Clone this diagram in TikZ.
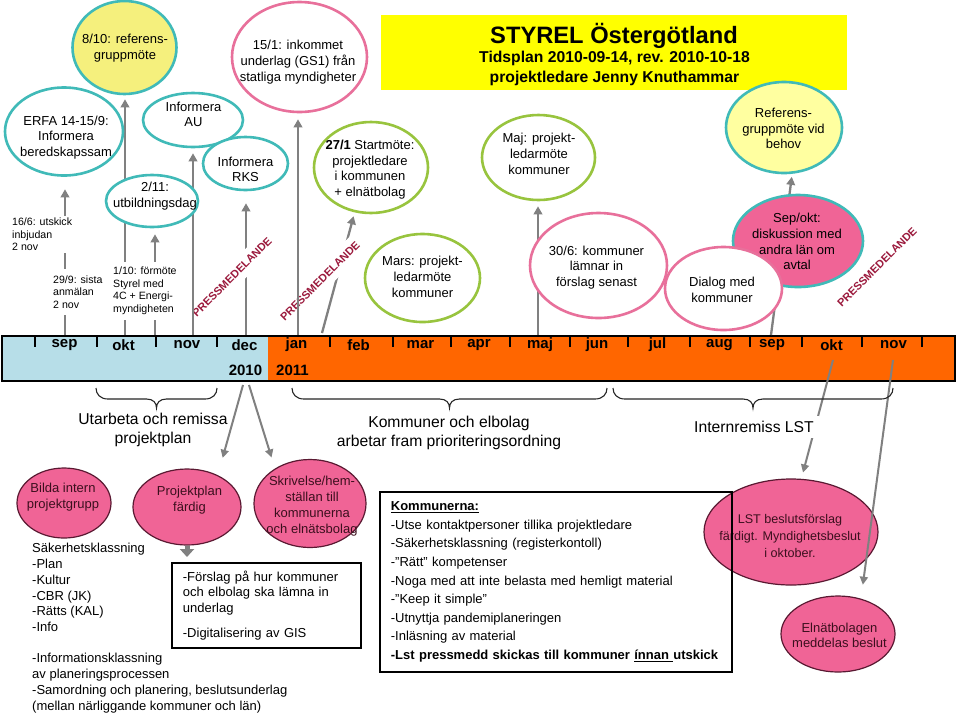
\documentclass[tikz,border=0pt]{standalone}
\usepackage{fontspec}
\setmainfont{Liberation Sans}
\usetikzlibrary{shapes.geometric,arrows.meta}
\pgfdeclarelayer{bg}
\pgfsetlayers{bg,main}
\definecolor{cteal}{RGB}{64,186,184}
\definecolor{cpinkb}{RGB}{232,112,155}
\definecolor{cgreen}{RGB}{152,196,62}
\definecolor{cyel}{RGB}{245,240,125}
\definecolor{cyelb}{RGB}{255,255,160}
\definecolor{cpinkf}{RGB}{240,100,150}
\definecolor{cdark}{RGB}{90,25,50}
\definecolor{cgray}{RGB}{128,128,128}
\definecolor{cpm}{RGB}{155,25,60}
\definecolor{cbarblue}{RGB}{183,222,232}
\definecolor{cbarorange}{RGB}{255,102,0}
\definecolor{ctitle}{RGB}{255,255,0}
\definecolor{clowtxt}{RGB}{60,15,30}
\newcommand\myfs[2]{\fontsize{#1}{#2}\selectfont}
\newcommand\mybrace[4]{\draw[brc] (#1,#4) .. controls (#1,#4+6) and (#1+4,#4+11) .. (#1+12,#4+11) -- (#3-10,#4+11) .. controls (#3-3,#4+11) and (#3,#4+15) .. (#3,#4+20) .. controls (#3,#4+15) and (#3+3,#4+11) .. (#3+10,#4+11) -- (#2-12,#4+11) .. controls (#2-4,#4+11) and (#2,#4+6) .. (#2,#4);}
\begin{document}
\begin{tikzpicture}[x=1pt, y=-1pt,
 ell/.style={ellipse, draw, line width=2.6pt, inner sep=0pt, fill=white},
 tealE/.style={ell, draw=cteal},
 pinkE/.style={ell, draw=cpinkb},
 greenE/.style={ell, draw=cgreen},
 lowE/.style={ellipse, draw=cdark, line width=1.2pt, fill=cpinkf, inner sep=0pt},
 etxt/.style={align=center, inner sep=0pt, font=\myfs{13}{15.7}},
 ltxt/.style={align=center, inner sep=0pt, text=clowtxt, font=\myfs{13}{16.5}},
 smalltxt/.style={align=left, fill=white, inner xsep=1pt, font=\myfs{10.6}{12.5}},
 pm/.style={rotate=45, fill=white, text=cpm, inner xsep=1pt, inner ysep=6.5pt, font=\bfseries\myfs{11}{13}},
 uparrow/.style={draw=cgray, line width=2.3pt, -{Triangle[length=8pt,width=8.5pt]}},
 downarrow/.style={draw=cgray, line width=2pt, -{Triangle[length=8pt,width=8pt]}},
 fatarrow/.style={draw=cgray, line width=5pt, -{Triangle[length=8pt,width=14pt]}},
 mlab/.style={inner sep=0pt, font=\bfseries\myfs{15}{18}},
 blab/.style={align=center, inner sep=0pt, font=\myfs{15.7}{19}},
 brc/.style={draw=black!85, line width=1.1pt},
 tickmark/.style={line width=2.2pt},
 boxnode/.style={draw, line width=1.8pt, inner xsep=11pt, align=left, anchor=north west}
]
\useasboundingbox (0,0) rectangle (960,713);

% title
\node[fill=ctitle, minimum width=466pt, minimum height=75pt, inner sep=0pt, anchor=north west] (titlebox) at (381,15) {};
\node[inner sep=0pt, font=\bfseries\myfs{23.7}{28}] (title1) at (614,35.5) {STYREL Östergötland};
\node[inner sep=0pt, align=center, font=\bfseries\myfs{15.7}{20}] (title2) at (614.5,68.5) {Tidsplan 2010-09-14, rev. 2010-10-18\\projektledare Jenny Knuthammar};

% upper ellipses
\node[tealE, fill=cyel, minimum width=104pt, minimum height=93pt] (ref810) at (124.5,47.5) {};
\node[etxt] (ref810t) at (125,48) {8/10: referens-\\gruppmöte};
\node[tealE, minimum width=118pt, minimum height=88pt] (erfa) at (64,131.5) {};
\node[etxt] (erfat) at (66,137.5) {ERFA 14-15/9:\\Informera\\beredskapssam};
\node[tealE, minimum width=100pt, minimum height=54pt] (au) at (193,120) {};
\node[etxt] (aut) at (193.5,114.5) {Informera\\AU};
\node[tealE, minimum width=85pt, minimum height=53pt] (rks) at (245.5,163.5) {};
\node[etxt] (rkst) at (245.5,169.5) {Informera\\RKS};
\node[tealE, minimum width=92pt, minimum height=52pt] (u211) at (152,201) {};
\node[etxt] (u211t) at (155,196) {2/11:\\utbildningsdag};
\node[pinkE, minimum width=135pt, minimum height=110pt] (g151) at (299.5,57) {};
\node[etxt] (g151t) at (298,62) {15/1: inkommet\\underlag (GS1) från\\statliga myndigheter};
\node[greenE, minimum width=114pt, minimum height=91pt] (s271) at (371,167.5) {};
\node[etxt] (s271t) at (370,169.5) {\textbf{27/1} Startmöte:\\projektledare\\i kommunen\\+ elnätbolag};
\node[greenE, minimum width=115pt, minimum height=88pt] (mars) at (422.5,278) {};
\node[etxt] (marst) at (422.5,277) {Mars: projekt-\\ledarmöte\\kommuner};
\node[greenE, minimum width=113pt, minimum height=85pt] (maj) at (538.5,157.5) {};
\node[etxt] (majt) at (539,154) {Maj: projekt-\\ledarmöte\\kommuner};
\node[pinkE, minimum width=137pt, minimum height=105pt] (j306) at (598.5,265.5) {};
\node[etxt] (j306t) at (596.5,267.5) {30/6: kommuner\\lämnar in\\förslag senast};
\node[tealE, fill=cyelb, minimum width=116pt, minimum height=91pt] (refb) at (784,127.5) {};
\node[etxt] (refbt) at (783.5,128.5) {Referens-\\gruppmöte vid\\behov};
\node[tealE, fill=cpinkf, minimum width=130pt, minimum height=92pt] (sepokt) at (798,241) {};
\node[etxt] (sepoktt) at (797,241.5) {Sep/okt:\\diskussion med\\andra län om\\avtal};
\node[pinkE, minimum width=117pt, minimum height=83pt] (dialog) at (723.5,288.5) {};
\node[etxt] (dialogt) at (722,289.5) {Dialog med\\kommuner};

% lower ellipses
\node[lowE, minimum width=94pt, minimum height=70pt] (bilda) at (64,503) {};
\node[ltxt] (bildat) at (63,497) {Bilda intern\\projektgrupp};
\node[lowE, minimum width=108pt, minimum height=76pt] (pp) at (187,507) {};
\node[ltxt] (ppt) at (189.5,500) {Projektplan\\färdig};
\node[lowE, minimum width=112pt, minimum height=88pt] (skriv) at (310,503.5) {};
\node[ltxt, font=\myfs{13}{16}] (skrivt) at (312,506.5) {Skrivelse/hem-\\ställan till\\kommunerna\\och elnätsbolag};
\node[lowE, minimum width=174pt, minimum height=106pt] (lst) at (791,532) {};
\node[ltxt, font=\myfs{12.6}{17}] (lstt) at (790,535.5) {LST beslutsförslag\\färdigt. Myndighetsbeslut\\i oktober.};
\node[lowE, minimum width=114pt, minimum height=76pt] (eln) at (838,634) {};
\node[ltxt, font=\myfs{13}{15}] (elnt) at (839.5,635) {Elnätbolagen\\meddelas beslut};

% boxes and text blocks
\node[boxnode, minimum width=189pt, minimum height=85pt, text width=167pt, font=\myfs{13}{15.3}] (fbox) at (171,562) {-Förslag på hur kommuner\\och elbolag ska lämna in\\underlag\\[9.5pt]-Digitalisering av GIS};
\node[boxnode, minimum width=352pt, minimum height=180pt, text width=330pt, font=\myfs{13}{18.6}] (kbox) at (379,491) {\textbf{\underline{Kommunerna:}}\\-Utse kontaktpersoner tillika projektledare\\-Säkerhetsklassning (registerkontoll)\\-”Rätt” kompetenser\\-Noga med att inte belasta med hemligt material\\-”Keep it simple”\\-Utnyttja pandemiplaneringen\\-Inläsning av material\\\textbf{-Lst pressmedd skickas till kommuner \underline{ínnan }utskick}};
\node[anchor=north west, align=left, inner sep=0pt, font=\myfs{13}{15.8}] (sak) at (32,543) {Säkerhetsklassning\\-Plan\\-Kultur\\-CBR (JK)\\-Rätts (KAL)\\-Info\\[15.2pt]-Informationsklassning\\av planeringsprocessen\\-Samordning och planering, beslutsunderlag\\(mellan närliggande kommuner och län)};

% month labels
\node[mlab] (m1) at (64.5,345) {sep};
\node[mlab] (m2) at (123.5,345) {okt};
\node[mlab] (m3) at (187,345) {nov};
\node[mlab] (m4) at (244.5,345) {dec};
\node[mlab] (m5) at (296.5,345) {jan};
\node[mlab] (m6) at (358.5,345) {feb};
\node[mlab] (m7) at (420.5,345) {mar};
\node[mlab] (m8) at (479,345) {apr};
\node[mlab] (m9) at (540,345) {maj};
\node[mlab] (m10) at (597,345) {jun};
\node[mlab] (m11) at (657.5,345) {jul};
\node[mlab] (m12) at (719.5,345) {aug};
\node[mlab] (m13) at (772,345) {sep};
\node[mlab] (m14) at (831.5,345) {okt};
\node[mlab] (m15) at (893.5,345) {nov};
\node[mlab] (y1) at (245.5,370) {2010};
\node[mlab] (y2) at (292.5,370) {2011};

% coordinates on the bar
\coordinate (c1) at (65,335);
\coordinate (c2) at (125,335);
\coordinate (c3) at (155,335);
\coordinate (c4) at (193,335);
\coordinate (c5) at (246,335);
\coordinate (c6) at (298,335);
\coordinate (c7) at (322,333);
\coordinate (c8) at (538,335);
\coordinate (c9) at (771,335);
\coordinate (d1) at (243,385);
\coordinate (d2) at (249,385);
\coordinate (o1) at (833,360);
\coordinate (n1) at (893,360);

\begin{pgfonlayer}{bg}
\fill[white] (0,0) rectangle (960,713);
\fill[cbarblue] (2,336) rectangle (268,381);
\fill[cbarorange] (268,336) rectangle (955,381);
\draw[line width=2.5pt] (2,336) rectangle (955,381);
\foreach \x in {35,97,156,217,330,393,451,510,570,628,690,750,802,862,922} \draw[tickmark] (\x,336) -- (\x,347);
\draw[uparrow, shorten >=12.5pt] (c1) -- (c1 |- erfa.south);
\draw[uparrow, shorten >=4pt] (c2) -- (c2 |- ref810.south);
\draw[uparrow, shorten >=6pt] (c3) -- (c3 |- u211.south);
\draw[uparrow, shorten >=12pt] (c5) -- (c5 |- rks.south);
\draw[uparrow, shorten >=4pt] (c7) -- (s271.-110);
\draw[uparrow, shorten >=5pt] (c8) -- (c8 |- maj.south);
\draw[uparrow, shorten >=3pt] (c9) -- (refb.-80);
\draw[downarrow, shorten >=6.5pt] (o1) -- (lst.79);
\node[smalltxt, anchor=west, inner ysep=2pt] (t166) at (11,234.5) {16/6: utskick\\inbjudan\\2 nov};
\node[smalltxt, anchor=west, inner ysep=7pt] (t299) at (52,292) {29/9: sista\\anmälan\\2 nov};
\node[smalltxt, anchor=west, inner ysep=5pt] (t110) at (112,291) {1/10: förmöte\\Styrel med\\4C + Energi-\\myndigheten};
\node[pm] (pm1) at (232,277) {PRESSMEDELANDE};
\node[pm] (pm2) at (320,281) {PRESSMEDELANDE};
\node[pm] (pm3) at (877,267) {PRESSMEDELANDE};
\node[blab, fill=white, inner sep=5pt] (lab3) at (754,427) {Internremiss LST};
\draw[uparrow, shorten >=5pt] (c4) -- (c4 |- au.south);
\draw[uparrow, shorten >=6pt] (c6) -- (c6 |- g151.south);
\end{pgfonlayer}

% arrows below the bar
\draw[downarrow, shorten >=18pt] (d1) -- (pp.46.5);
\draw[downarrow, shorten >=11.5pt] (d2) -- (skriv.135);
\draw[downarrow, shorten >=14pt] (n1) -- (eln.57);
\draw[fatarrow, shorten >=5pt] (pp.south) -- (pp.south |- fbox.north);

% braces and their labels
\mybrace{96}{217}{156.5}{388}
\mybrace{292}{607}{449.5}{388}
\mybrace{613}{893}{753}{388}
\node[blab] (lab1) at (153,430) {Utarbeta och remissa\\projektplan};
\node[blab] (lab2) at (449,433) {Kommuner och elbolag\\arbetar fram prioriteringsordning};
\end{tikzpicture}
\end{document}
